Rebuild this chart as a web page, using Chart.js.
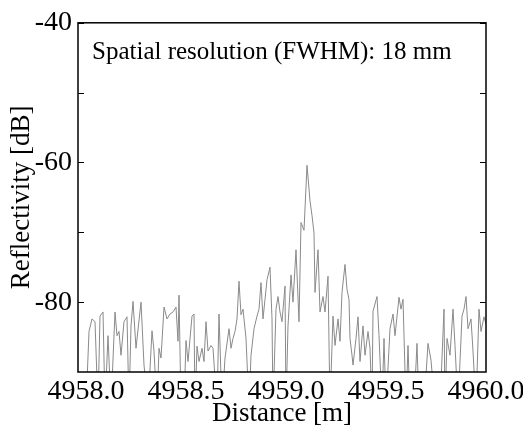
<!doctype html>
<html lang="en">
<head>
  <meta charset="utf-8" />
  <title>Reflectivity vs distance</title>
  <script src="https://cdn.jsdelivr.net/npm/chart.js"></script>
  <style>
    html, body { margin: 0; padding: 0; background: #fff; }
    #wrap { width: 523px; height: 432px; }
  </style>
</head>
<body>
<div id="wrap"><canvas id="reflChart" width="523" height="432"></canvas></div>
<script>
  // distance [m] and reflectivity [dB] (values below -90 are clipped)
  const distance = [
    4958.000, 4958.015, 4958.030, 4958.045, 4958.060, 4958.070, 4958.085, 4958.095, 4958.110, 4958.125,
    4958.145, 4958.155, 4958.165, 4958.175, 4958.190, 4958.205, 4958.215, 4958.225, 4958.235, 4958.250,
    4958.275, 4958.290, 4958.310, 4958.330, 4958.340, 4958.355, 4958.365, 4958.375, 4958.390, 4958.405,
    4958.420, 4958.435, 4958.450, 4958.460, 4958.465, 4958.475, 4958.490, 4958.500, 4958.510, 4958.530,
    4958.540, 4958.545, 4958.555, 4958.565, 4958.580, 4958.590, 4958.600, 4958.610, 4958.625, 4958.635,
    4958.655, 4958.665, 4958.680, 4958.695, 4958.715, 4958.725, 4958.735, 4958.745, 4958.755, 4958.765,
    4958.775, 4958.785, 4958.800, 4958.815, 4958.825, 4958.840, 4958.855, 4958.865, 4958.875, 4958.885,
    4958.895, 4958.905, 4958.920, 4958.930, 4958.935, 4958.950, 4958.960, 4958.970, 4958.980, 4958.995,
    4959.000, 4959.010, 4959.025, 4959.035, 4959.050, 4959.065, 4959.075, 4959.090, 4959.105, 4959.120,
    4959.130, 4959.140, 4959.145, 4959.160, 4959.170, 4959.185, 4959.195, 4959.210, 4959.220, 4959.235,
    4959.245, 4959.260, 4959.270, 4959.280, 4959.295, 4959.305, 4959.315, 4959.320, 4959.330, 4959.335,
    4959.350, 4959.360, 4959.370, 4959.385, 4959.395, 4959.410, 4959.420, 4959.430, 4959.435, 4959.455,
    4959.465, 4959.480, 4959.490, 4959.500, 4959.520, 4959.535, 4959.545, 4959.565, 4959.575, 4959.585,
    4959.600, 4959.610, 4959.620, 4959.640, 4959.655, 4959.665, 4959.690, 4959.710, 4959.725, 4959.745,
    4959.770, 4959.790, 4959.795, 4959.805, 4959.820, 4959.835, 4959.845, 4959.860, 4959.880, 4959.890,
    4959.900, 4959.910, 4959.925, 4959.935, 4959.950, 4959.965, 4959.975, 4959.990, 4960.000
  ];
  const reflectivity = [
    -95, -84.2, -82.4, -82.8, -95, -82.0, -81.4, -95, -84.8, -95,
    -81.4, -84.8, -84.2, -87.6, -82.8, -82.1, -95, -83.4, -79.9, -86.6,
    -80.0, -89.0, -95, -84.1, -87.0, -95, -86.6, -88.0, -80.7, -82.4,
    -81.7, -81.4, -80.7, -85.6, -79.0, -95, -95, -85.5, -88.5, -82.0,
    -81.7, -95, -86.3, -88.5, -86.6, -88.5, -82.8, -87.0, -86.2, -86.6,
    -95, -81.7, -95, -88.0, -83.8, -86.6, -85.2, -84.2, -82.4, -77.0,
    -81.8, -81.0, -85.2, -95, -87.6, -83.8, -82.0, -81.0, -77.2, -82.4,
    -79.6, -76.8, -75.0, -82.4, -95, -81.0, -79.2, -81.4, -82.8, -77.7,
    -95, -83.4, -76.1, -80.0, -72.5, -82.8, -68.6, -69.7, -60.4, -65.5,
    -67.6, -70.1, -78.6, -72.5, -81.4, -79.2, -81.4, -76.3, -95, -82.0,
    -86.2, -82.4, -85.6, -78.6, -74.6, -78.2, -79.6, -85.2, -87.6, -89.0,
    -85.2, -82.1, -88.5, -83.4, -87.6, -84.2, -86.6, -95, -81.3, -79.2,
    -84.8, -95, -85.2, -95, -83.8, -81.7, -84.8, -79.3, -81.0, -79.6,
    -95, -86.2, -95, -95, -85.9, -95, -95, -85.9, -88.3, -95,
    -95, -81.0, -95, -85.2, -87.6, -81.0, -86.2, -95, -82.0, -81.0,
    -79.2, -83.8, -82.4, -87.0, -95, -81.0, -84.2, -82.1, -83.1
  ];
  const xTicks = [4958.0, 4958.5, 4959.0, 4959.5, 4960.0];
  const yLabelled = [-40, -60, -80];
  const yMinor = [-50, -70];
  const note = 'Spatial resolution (FWHM): 18 mm';

  const serif = '"Liberation Serif", "DejaVu Serif", serif';

  // frame, inward ticks and the annotation
  const framePlugin = {
    id: 'frame',
    afterDraw(chart) {
      const { ctx, chartArea: a, scales } = chart;
      ctx.save();
      ctx.strokeStyle = '#000';
      ctx.lineWidth = 1.5;
      ctx.strokeRect(a.left, a.top, a.right - a.left, a.bottom - a.top);
      ctx.lineWidth = 1.2;
      yLabelled.concat(yMinor).forEach(v => {
        const py = Math.round(scales.y.getPixelForValue(v)) + 0.5;
        ctx.beginPath();
        ctx.moveTo(a.left, py); ctx.lineTo(a.left + 6, py);
        ctx.moveTo(a.right, py); ctx.lineTo(a.right - 6, py);
        ctx.stroke();
      });
      ctx.fillStyle = '#000';
      ctx.font = '25px ' + serif;
      ctx.textBaseline = 'alphabetic';
      ctx.fillText(note, a.left + 14, a.top + 36);
      ctx.restore();
    }
  };

  const points = distance.map((d, i) => ({ x: d, y: reflectivity[i] }));

  new Chart(document.getElementById('reflChart').getContext('2d'), {
    type: 'line',
    data: {
      datasets: [{
        data: points,
        borderColor: '#8a8a8a',
        borderWidth: 1,
        pointRadius: 0,
        tension: 0,
        fill: false
      }]
    },
    options: {
      responsive: false,
      animation: false,
      devicePixelRatio: 1,
      layout: { padding: { top: 19, right: 37, left: 0, bottom: 0 } },
      plugins: { legend: { display: false }, tooltip: { enabled: false } },
      scales: {
        x: {
          type: 'linear',
          min: 4957.96,
          max: 4960.0,
          grid: { display: false, drawTicks: false },
          border: { display: false },
          afterFit: s => { s.height = 60; s.paddingLeft = 0; s.paddingRight = 0; },
          afterBuildTicks: s => { s.ticks = xTicks.map(v => ({ value: v })); },
          ticks: {
            autoSkip: false,
            maxRotation: 0,
            padding: 3,
            color: '#000',
            font: { family: serif, size: 28 },
            callback: v => Number(v).toFixed(1)
          },
          title: {
            display: true,
            text: 'Distance [m]',
            color: '#000',
            font: { family: serif, size: 27 },
            padding: { top: 0, bottom: 2 }
          }
        },
        y: {
          min: -90,
          max: -40,
          grid: { display: false, drawTicks: false },
          border: { display: false },
          afterFit: s => { s.width = 78; },
          afterBuildTicks: s => { s.ticks = yLabelled.map(v => ({ value: v })); },
          ticks: {
            padding: 6,
            color: '#000',
            font: { family: serif, size: 28 },
            callback: v => String(v)
          },
          title: {
            display: true,
            text: 'Reflectivity [dB]',
            color: '#000',
            font: { family: serif, size: 27 },
            padding: { top: 6, bottom: 0 }
          }
        }
      }
    },
    plugins: [framePlugin]
  });
</script>
</body>
</html>
